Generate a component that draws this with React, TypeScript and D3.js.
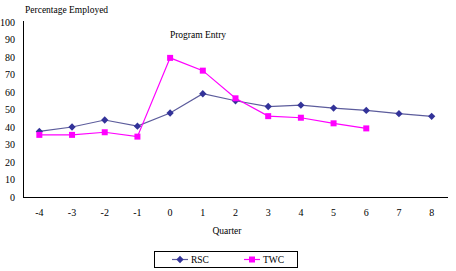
import React, { useEffect, useRef } from "react";
import * as d3 from "d3";

const quarters = ["-4", "-3", "-2", "-1", "0", "1", "2", "3", "4", "5", "6", "7", "8"];
const rscValues = [37.5, 40, 44, 40.5, 48, 59, 55, 51.7, 52.5, 50.8, 49.5, 47.6, 46.1];
const twcValues = [35.5, 35.5, 37, 34.5, 79.5, 72.2, 56.4, 46.2, 45.3, 42.1, 39.2];
const yTicks = [0, 10, 20, 30, 40, 50, 60, 70, 80, 90, 100];

const font = "Liberation Serif";

function App() {
  const ref = useRef<SVGSVGElement>(null);

  useEffect(() => {
    const svg = d3.select(ref.current);
    svg.selectAll("*").remove();

    const x = d3.scaleBand().domain(quarters).range([23, 448]);
    const y = d3.scaleLinear().domain([0, 100]).range([197, 22]);
    const cx = (q: string) => (x(q) as number) + x.bandwidth() / 2;

    // axes
    svg.append("line").attr("x1", 23.5).attr("x2", 23.5).attr("y1", 21).attr("y2", 197.5)
      .attr("stroke", "#000").attr("stroke-width", 1);
    svg.append("line").attr("x1", 23).attr("x2", 448).attr("y1", 197.5).attr("y2", 197.5)
      .attr("stroke", "#000").attr("stroke-width", 1);

    svg.append("g").selectAll("text").data(yTicks).enter().append("text")
      .attr("x", 15).attr("y", d => y(d)).attr("dy", "0.35em")
      .attr("text-anchor", "end")
      .attr("font-family", font).attr("font-size", 10)
      .text(d => d);

    svg.append("g").selectAll("text").data(quarters).enter().append("text")
      .attr("x", d => cx(d)).attr("y", 212).attr("dy", "0.35em")
      .attr("text-anchor", "middle")
      .attr("font-family", font).attr("font-size", 10)
      .text(d => d);

    // series
    const series = [
      { name: "RSC", values: rscValues, line: "#5c5c9c", fill: "#333399", shape: d3.symbolDiamond2, size: 34 },
      { name: "TWC", values: twcValues, line: "#ff00ff", fill: "#ff00ff", shape: d3.symbolSquare, size: 36 },
    ];

    series.forEach(s => {
      const pts = s.values.map((v, i) => [cx(quarters[i]), y(v)] as [number, number]);
      svg.append("path")
        .attr("d", d3.line()(pts))
        .attr("fill", "none")
        .attr("stroke", s.line)
        .attr("stroke-width", 1.2);
      svg.append("g").selectAll("path").data(pts).enter().append("path")
        .attr("transform", d => `translate(${d[0]},${d[1]})`)
        .attr("d", d3.symbol().type(s.shape).size(s.size)())
        .attr("fill", s.fill);
    });

    // labels
    svg.append("text").attr("x", 25).attr("y", 10).attr("dy", "0.35em")
      .attr("font-family", font).attr("font-size", 9.5).text("Percentage Employed");
    svg.append("text").attr("x", 198).attr("y", 35).attr("dy", "0.35em").attr("text-anchor", "middle")
      .attr("font-family", font).attr("font-size", 9.5).text("Program Entry");
    svg.append("text").attr("x", 227).attr("y", 231).attr("dy", "0.35em").attr("text-anchor", "middle")
      .attr("font-family", font).attr("font-size", 9.5).text("Quarter");

    // legend
    const legend = svg.append("g");
    legend.append("rect").attr("x", 154.5).attr("y", 251.5).attr("width", 143).attr("height", 16)
      .attr("fill", "#fff").attr("stroke", "#000").attr("stroke-width", 1);
    const legendX = [180, 252];
    series.forEach((s, i) => {
      const lx = legendX[i];
      legend.append("line").attr("x1", lx - 8).attr("x2", lx + 8).attr("y1", 259.5).attr("y2", 259.5)
        .attr("stroke", s.line).attr("stroke-width", 1.2);
      legend.append("path").attr("transform", `translate(${lx},${259.5})`)
        .attr("d", d3.symbol().type(s.shape).size(s.size)()).attr("fill", s.fill);
      legend.append("text").attr("x", lx + 11).attr("y", 259.5).attr("dy", "0.35em")
        .attr("font-family", font).attr("font-size", 9.5).text(s.name);
    });
  }, []);

  return (
    <svg ref={ref} width={456} height={271}
      style={{ position: "absolute", left: 0, top: 0, background: "#fff" }} />
  );
}

export default App;
